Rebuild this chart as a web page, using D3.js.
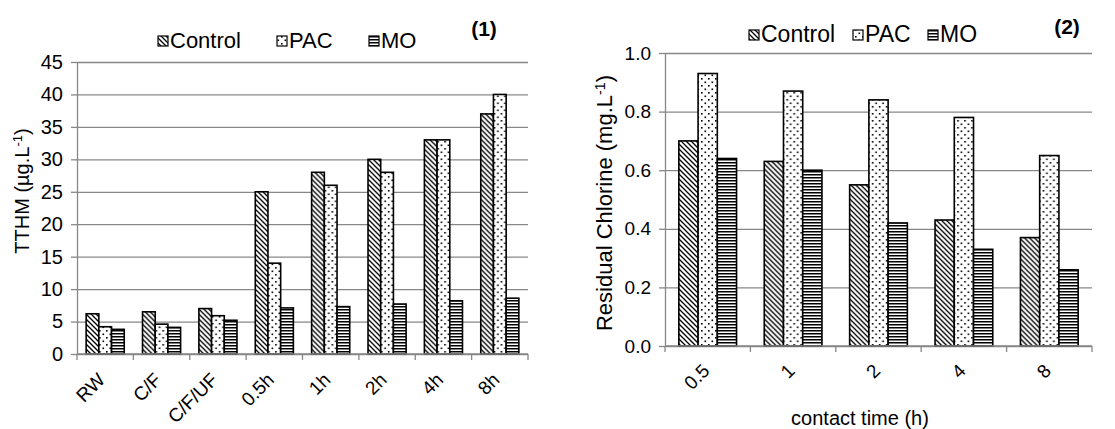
<!DOCTYPE html>
<html>
<head>
<meta charset="utf-8">
<script src="https://cdn.jsdelivr.net/npm/d3@7"></script>
<style>
  body { margin: 0; background: #fff; }
  svg text { font-family: "Liberation Sans", Arial, sans-serif; fill: #000; }
</style>
</head>
<body>
<svg id="chart" width="1115" height="429"></svg>
<script>
// series shared by both panels
var series = ["Control", "PAC", "MO"];

// panel (1): TTHM
var tthmCategories = ["RW", "C/F", "C/F/UF", "0.5h", "1h", "2h", "4h", "8h"];
var tthmControl = [6.2, 6.5, 7.0, 25, 28, 30, 33, 37];
var tthmPAC = [4.2, 4.6, 5.9, 14, 26, 28, 33, 40];
var tthmMO = [3.8, 4.1, 5.2, 7.1, 7.3, 7.7, 8.2, 8.6];
var tthmTicks = [0, 5, 10, 15, 20, 25, 30, 35, 40, 45];

// panel (2): residual chlorine
var timeCategories = ["0.5", "1", "2", "4", "8"];
var chlorineControl = [0.70, 0.63, 0.55, 0.43, 0.37];
var chlorinePAC = [0.93, 0.87, 0.84, 0.78, 0.65];
var chlorineMO = [0.64, 0.60, 0.42, 0.33, 0.26];
var chlorineTicks = [0, 0.2, 0.4, 0.6, 0.8, 1.0];

var gridColor = "#878787";

var svg = d3.select("#chart");
var defs = svg.append("defs");

// hatch patterns, like the Excel pattern fills
var pc = defs.append("pattern").attr("id", "pat-Control")
  .attr("patternUnits", "userSpaceOnUse").attr("width", 5).attr("height", 5);
pc.append("rect").attr("width", 5).attr("height", 5).attr("fill", "#fff");
pc.append("path").attr("d", "M-1,-1 L6,6 M-1,4 L1,6 M4,-1 L6,1")
  .attr("stroke", "#000").attr("stroke-width", 1.3);

var pp = defs.append("pattern").attr("id", "pat-PAC")
  .attr("patternUnits", "userSpaceOnUse").attr("width", 7).attr("height", 7);
pp.append("rect").attr("width", 7).attr("height", 7).attr("fill", "#fff");
pp.append("rect").attr("x", 1).attr("y", 1).attr("width", 1.6).attr("height", 1.6).attr("fill", "#000");
pp.append("rect").attr("x", 4.5).attr("y", 4.5).attr("width", 1.6).attr("height", 1.6).attr("fill", "#000");

var pm = defs.append("pattern").attr("id", "pat-MO")
  .attr("patternUnits", "userSpaceOnUse").attr("width", 4).attr("height", 3);
pm.append("rect").attr("width", 4).attr("height", 3).attr("fill", "#fff");
pm.append("rect").attr("y", 0).attr("width", 4).attr("height", 1.5).attr("fill", "#000");

function drawPanel(p) {
  var g = svg.append("g");

  var x0 = d3.scaleBand().domain(p.categories).range([p.left, p.right]);
  var x1 = d3.scaleBand().domain(series).range([0, x0.bandwidth()]).paddingOuter(0.72);
  var y = d3.scaleLinear().domain([0, p.max]).range([p.bottom, p.top]);

  // gridlines
  g.append("g")
    .attr("transform", "translate(" + p.left + ",0)")
    .call(d3.axisLeft(y).tickValues(p.ticks).tickSize(-(p.right - p.left)).tickFormat(""))
    .call(function(a) {
      a.select(".domain").remove();
      a.selectAll("line").attr("stroke", gridColor).attr("stroke-width", 1.3);
    });

  // y axis
  g.append("g")
    .attr("transform", "translate(" + p.left + ",0)")
    .call(d3.axisLeft(y).tickValues(p.ticks).tickSize(6).tickSizeOuter(0).tickPadding(8).tickFormat(p.format))
    .call(function(a) {
      a.select(".domain").attr("stroke", gridColor).attr("stroke-width", 1.3);
      a.selectAll("line").attr("stroke", gridColor).attr("stroke-width", 1.3);
      a.selectAll("text").style("font-size", p.tickSize + "px").attr("font-family", null);
    });

  // bars
  var rows = p.categories.map(function(c, i) {
    return { cat: c, vals: series.map(function(s, j) { return { s: s, v: p.values[j][i] }; }) };
  });
  g.selectAll(".grp")
    .data(rows)
    .enter()
    .append("g")
    .attr("transform", function(d) { return "translate(" + x0(d.cat) + ",0)"; })
    .selectAll("rect")
    .data(function(d) { return d.vals; })
    .enter()
    .append("rect")
    .attr("x", function(d) { return x1(d.s); })
    .attr("width", x1.bandwidth())
    .attr("y", function(d) { return y(d.v); })
    .attr("height", function(d) { return p.bottom - y(d.v); })
    .attr("fill", function(d) { return "url(#pat-" + d.s + ")"; })
    .attr("stroke", "#000")
    .attr("stroke-width", 1.6);

  // x axis line and tick marks at category boundaries
  g.append("line")
    .attr("x1", p.left).attr("x2", p.right)
    .attr("y1", p.bottom).attr("y2", p.bottom)
    .attr("stroke", gridColor).attr("stroke-width", 1.3);
  var bounds = p.categories.map(function(c) { return x0(c); }).concat([p.right]);
  g.selectAll(".xtick")
    .data(bounds)
    .enter()
    .append("line")
    .attr("x1", function(d) { return d; }).attr("x2", function(d) { return d; })
    .attr("y1", p.bottom).attr("y2", p.bottom + 6)
    .attr("stroke", gridColor).attr("stroke-width", 1.3);

  g.selectAll(".xlabel")
    .data(p.categories)
    .enter()
    .append("text")
    .attr("text-anchor", "end")
    .style("font-size", p.xLabelSize + "px")
    .attr("transform", function(d) {
      return "translate(" + (x0(d) + x0.bandwidth() / 2 + p.labelDx) + "," + (p.bottom + p.labelDy) + ") rotate(-45)";
    })
    .text(function(d) { return d; });

  // y title with superscript
  var yt = g.append("text")
    .attr("text-anchor", "middle")
    .style("font-size", p.titleSize + "px")
    .attr("transform", "translate(" + p.titleX + "," + p.titleY + ") rotate(-90)");
  yt.append("tspan").text(p.titleMain);
  yt.append("tspan").attr("dy", -7).style("font-size", (p.titleSize * 0.65) + "px").text("-1");
  yt.append("tspan").attr("dy", 7).text(")");

  if (p.xTitle) {
    g.append("text")
      .attr("text-anchor", "middle")
      .style("font-size", "20px")
      .attr("x", p.xTitleX).attr("y", p.xTitleY)
      .text(p.xTitle);
  }

  // legend
  series.forEach(function(s, i) {
    g.append("rect")
      .attr("x", p.legendX[i]).attr("y", p.legendY - 12)
      .attr("width", 10).attr("height", 10)
      .attr("fill", "url(#pat-" + s + ")")
      .attr("stroke", "#000").attr("stroke-width", 1.2);
    g.append("text")
      .attr("x", p.legendX[i] + 12).attr("y", p.legendY)
      .style("font-size", p.legendSize + "px")
      .text(s);
  });

  g.append("text")
    .attr("text-anchor", "middle")
    .style("font-size", "21px")
    .style("font-weight", "bold")
    .attr("x", p.tagX).attr("y", p.tagY)
    .text(p.tag);
}

drawPanel({
  categories: tthmCategories,
  values: [tthmControl, tthmPAC, tthmMO],
  ticks: tthmTicks,
  max: 45,
  format: d3.format("d"),
  left: 77, right: 528, top: 62, bottom: 354,
  tickSize: 20, xLabelSize: 19,
  labelDx: 1, labelDy: 27,
  titleMain: "TTHM (µg.L", titleSize: 20, titleX: 29, titleY: 191,
  legendX: [158, 277, 369], legendY: 48, legendSize: 22,
  tag: "(1)", tagX: 484, tagY: 36
});

drawPanel({
  categories: timeCategories,
  values: [chlorineControl, chlorinePAC, chlorineMO],
  ticks: chlorineTicks,
  max: 1.0,
  format: d3.format(".1f"),
  left: 665, right: 1092, top: 53, bottom: 346,
  tickSize: 19, xLabelSize: 19,
  labelDx: 3, labelDy: 26,
  titleMain: "Residual Chlorine (mg.L", titleSize: 22, titleX: 612, titleY: 203,
  xTitle: "contact time (h)", xTitleX: 860, xTitleY: 425,
  legendX: [749, 853, 928], legendY: 42, legendSize: 23,
  tag: "(2)", tagX: 1067, tagY: 34
});
</script>
</body>
</html>
